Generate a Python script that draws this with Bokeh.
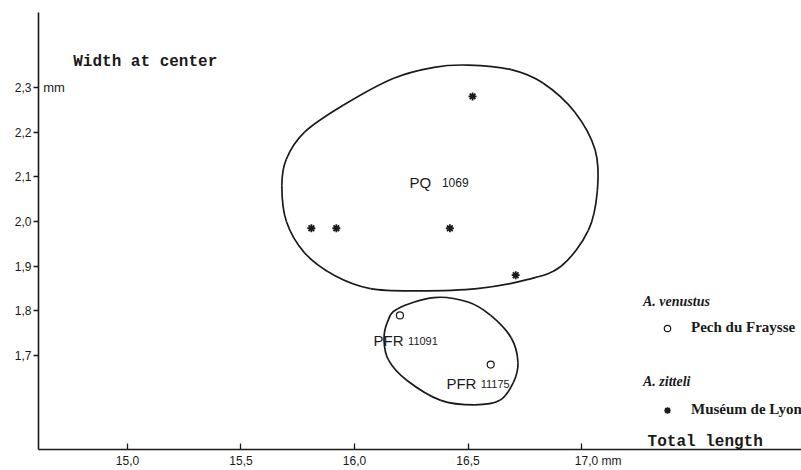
import numpy as np
from bokeh.plotting import figure
from bokeh.models import (Range1d, FixedTicker, Label, Legend, LegendItem)
from bokeh.embed import file_html
from bokeh.resources import INLINE

# ---- data ----
x_ticks = [15.0, 15.5, 16.0, 16.5, 17.0]
x_tick_labels = ["15,0", "15,5", "16,0", "16,5",
                 "\u00a0" * 10 + "17,0 mm"]
y_ticks = [1.7, 1.8, 1.9, 2.0, 2.1, 2.2, 2.3]
y_tick_labels = ["1,7", "1,8", "1,9", "2,0", "2,1", "2,2", "2,3"]

# A. zitteli - Muséum de Lyon (asterisks)
lyon_x = [15.81, 15.92, 16.42, 16.52, 16.71]
lyon_y = [1.985, 1.985, 1.985, 2.28, 1.88]

# A. venustus - Pech du Fraysse (open circles)
pech_x = [16.20, 16.60]
pech_y = [1.79, 1.68]

# enclosing outline of group PQ 1069
pq_x = [15.68, 15.70, 15.78, 15.95, 16.17, 16.35, 16.50, 16.69, 16.83, 16.97,
        17.06, 17.07, 17.03, 16.91, 16.76, 16.54, 16.28, 16.07, 15.91, 15.78, 15.70]
pq_y = [2.08, 2.14, 2.20, 2.26, 2.32, 2.345, 2.35, 2.34, 2.31, 2.245,
        2.16, 2.07, 1.98, 1.90, 1.87, 1.85, 1.845, 1.85, 1.88, 1.93, 2.00]

# enclosing outline of group PFR
pfr_x = [16.35, 16.50, 16.60, 16.69, 16.72, 16.70, 16.64, 16.53, 16.38, 16.23,
         16.15, 16.13, 16.145, 16.19]
pfr_y = [1.83, 1.82, 1.79, 1.74, 1.685, 1.64, 1.60, 1.59, 1.60, 1.645,
         1.69, 1.735, 1.775, 1.805]

INK = "#1a1a1a"

p = figure(width=801, height=470, output_backend="svg", toolbar_location=None,
           x_range=Range1d(14.608, 17.969), y_range=Range1d(1.49, 2.4677),
           min_border_left=38, min_border_right=0, min_border_top=12,
           min_border_bottom=19)
p.outline_line_color = None
p.grid.visible = False
p.background_fill_color = "white"

for ax in (p.xaxis[0], p.yaxis[0]):
    ax.axis_line_color = INK
    ax.axis_line_width = 1.6
    ax.major_tick_line_color = INK
    ax.major_tick_line_width = 1.3
    ax.minor_tick_line_color = None
    ax.major_label_text_font = "Liberation Sans"
    ax.major_label_text_font_size = "12px"
    ax.major_label_text_color = INK

p.xaxis[0].ticker = FixedTicker(ticks=x_ticks)
p.xaxis[0].major_label_overrides = dict(zip(x_ticks, x_tick_labels))
p.xaxis[0].major_tick_in = 6
p.xaxis[0].major_tick_out = 0
p.xaxis[0].major_label_standoff = 4

p.yaxis[0].ticker = FixedTicker(ticks=y_ticks)
p.yaxis[0].major_label_overrides = dict(zip(y_ticks, y_tick_labels))
p.yaxis[0].major_tick_in = 0
p.yaxis[0].major_tick_out = 5
p.yaxis[0].major_label_standoff = 2


def closed_bezier(xs, ys):
    xs = np.asarray(xs, float)
    ys = np.asarray(ys, float)
    n = len(xs)
    i = np.arange(n)
    x0, y0 = xs, ys
    x1, y1 = xs[(i + 1) % n], ys[(i + 1) % n]
    xm, ym = xs[(i - 1) % n], ys[(i - 1) % n]
    x2, y2 = xs[(i + 2) % n], ys[(i + 2) % n]
    cx0 = x0 + (x1 - xm) / 6.0
    cy0 = y0 + (y1 - ym) / 6.0
    cx1 = x1 - (x2 - x0) / 6.0
    cy1 = y1 - (y2 - y0) / 6.0
    p.bezier(x0=x0, y0=y0, x1=x1, y1=y1, cx0=cx0, cy0=cy0, cx1=cx1, cy1=cy1,
             line_color=INK, line_width=1.7)


closed_bezier(pq_x, pq_y)
closed_bezier(pfr_x, pfr_y)

r_lyon = p.scatter(lyon_x, lyon_y, marker="asterisk", size=8,
                   line_color=INK, line_width=1.8)
r_pech = p.scatter(pech_x, pech_y, marker="circle", size=7,
                   fill_color=None, line_color=INK, line_width=1.2)

# group labels
def group_label(x, y, big, small, xs, small_size):
    p.add_layout(Label(x=x, y=y, text=big, text_font="Liberation Sans",
                       text_font_size="15px", text_color=INK,
                       text_baseline="alphabetic"))
    p.add_layout(Label(x=xs, y=y, text=small, text_font="Liberation Sans",
                       text_font_size=small_size, text_color=INK,
                       text_baseline="alphabetic"))

group_label(16.242, 2.087, "PQ", "1069", 16.385, "12px")
group_label(16.084, 1.733, "PFR", "11091", 16.236, "11px")
group_label(16.405, 1.637, "PFR", "11175", 16.556, "11px")

# axis titles (typewriter)
p.add_layout(Label(x=14.761, y=2.356, text="Width at center",
                   text_font="Liberation Mono", text_font_size="16px",
                   text_font_style="bold", text_color=INK,
                   text_baseline="alphabetic"))
p.add_layout(Label(x=17.291, y=1.507, text="Total length",
                   text_font="Liberation Mono", text_font_size="16px",
                   text_font_style="bold", text_color=INK,
                   text_baseline="alphabetic"))
p.add_layout(Label(x=14.629, y=2.3, text="mm", text_font="Liberation Sans",
                   text_font_size="13px", text_color=INK,
                   text_baseline="middle"))

# legends
def make_legend(title, label, renderer, loc, standoff):
    leg = Legend(items=[LegendItem(label=label, renderers=[renderer])],
                 title=title, location=loc,
                 border_line_color=None, background_fill_alpha=0,
                 padding=0, margin=0, spacing=0,
                 glyph_width=48, glyph_height=16, label_standoff=-2,
                 label_height=16,
                 label_text_font="Liberation Serif",
                 label_text_font_style="bold",
                 label_text_font_size="15px", label_text_color=INK,
                 title_text_font="Liberation Serif",
                 title_text_font_style="bold italic",
                 title_text_font_size="14px", title_text_color=INK,
                 title_standoff=standoff)
    p.add_layout(leg)

make_legend("A. venustus", "Pech du Fraysse", r_pech, (605, 113), 9)
make_legend("A. zitteli", "Muséum de Lyon", r_lyon, (605, 31), 11)

open("out.html", "w").write(file_html(p, INLINE))
